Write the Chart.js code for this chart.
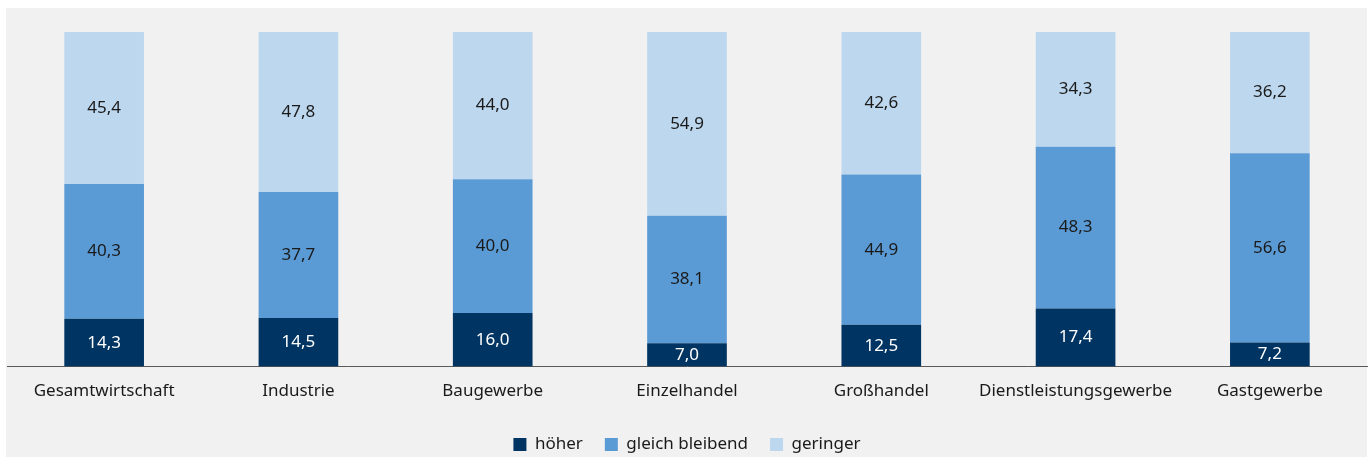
<!DOCTYPE html>
<html>
<head>
<meta charset="utf-8">
<script src="https://cdn.jsdelivr.net/npm/chart.js@4"></script>
<style>
	html, body { margin: 0; padding: 0; background: #ffffff; }
	#wrap { width: 1371px; height: 457px; }
</style>
</head>
<body>
<div id="wrap"><canvas id="myChart" width="1371" height="457"></canvas></div>
<script>
// values (shares in percent)
const categories = ['Gesamtwirtschaft', 'Industrie', 'Baugewerbe', 'Einzelhandel', 'Großhandel', 'Dienstleistungsgewerbe', 'Gastgewerbe'];
const hoeher = [14.3, 14.5, 16.0, 7.0, 12.5, 17.4, 7.2];
const gleichBleibend = [40.3, 37.7, 40.0, 38.1, 44.9, 48.3, 56.6];
const geringer = [45.4, 47.8, 44.0, 54.9, 42.6, 34.3, 36.2];

const fontName = "'Noto Sans', sans-serif";

// grey panel behind the chart
const panelPlugin = {
	id: 'panel',
	beforeDraw: (chart) => {
		const { ctx } = chart;
		ctx.save();
		ctx.fillStyle = '#f1f1f1';
		ctx.fillRect(6, 8, chart.width - 10, chart.height - 8);
		ctx.restore();
	}
};

// numbers in the middle of every segment
const valueLabels = {
	id: 'valueLabels',
	afterDatasetsDraw: (chart) => {
		const { ctx } = chart;
		ctx.save();
		ctx.font = '17px ' + fontName;
		ctx.textAlign = 'center';
		ctx.textBaseline = 'middle';
		chart.data.datasets.forEach((ds, i) => {
			const meta = chart.getDatasetMeta(i);
			meta.data.forEach((bar, j) => {
				const v = ds.data[j];
				const y = (bar.y + bar.base) / 2;
				ctx.fillStyle = i == 0 ? '#ffffff' : '#1a1a1a';
				ctx.fillText(v.toFixed(1).replace('.', ','), bar.x, y);
			});
		});
		ctx.restore();
	}
};

const ctx = document.getElementById('myChart').getContext('2d');

const config = {
	type: 'bar',
	data: {
		labels: categories,
		datasets: [
			{ label: 'höher', data: hoeher, backgroundColor: '#003462' },
			{ label: 'gleich bleibend', data: gleichBleibend, backgroundColor: '#5b9bd5' },
			{ label: 'geringer', data: geringer, backgroundColor: '#bdd7ee' }
		]
	},
	options: {
		responsive: false,
		animation: false,
		devicePixelRatio: 1,
		categoryPercentage: 1,
		barPercentage: 0.41,
		layout: { padding: { left: 7, right: 4, top: 32, bottom: -6 } },
		scales: {
			x: {
				stacked: true,
				grid: { display: false },
				border: { color: '#595959', width: 1 },
				ticks: { color: '#1a1a1a', font: { family: fontName, size: 17 }, padding: 6, maxRotation: 0, autoSkip: false },
				afterFit: (scale) => { scale.height += 7; }
			},
			y: {
				stacked: true,
				display: false,
				min: 0,
				max: 100
			}
		},
		plugins: {
			tooltip: { enabled: false },
			legend: {
				position: 'bottom',
				labels: {
					color: '#1a1a1a',
					font: { family: fontName, size: 17 },
					boxWidth: 13,
					boxHeight: 13,
					padding: 22
				}
			}
		}
	},
	plugins: [panelPlugin, valueLabels]
};

const myChart = new Chart(ctx, config);
</script>
</body>
</html>
